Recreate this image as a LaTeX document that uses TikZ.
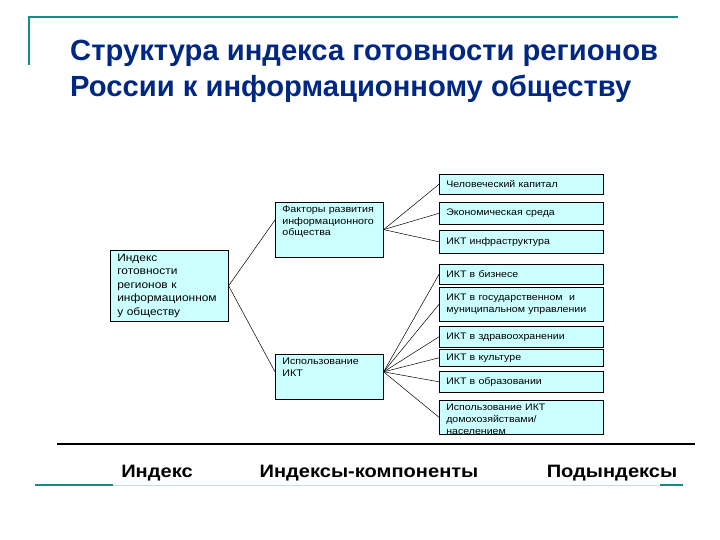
\documentclass[tikz,border=0pt]{standalone}
\usepackage{fontspec}
\setmainfont{Liberation Sans}
\newfontfamily\shirokiy[FakeStretch=1.12]{Liberation Sans}
\definecolor{zagolovok}{RGB}{0,40,130}
\definecolor{biryuza}{RGB}{20,140,140}
\definecolor{goluboy}{RGB}{204,255,255}
\begin{document}
\begin{tikzpicture}[x=1bp, y=-1bp,
    blok/.style={draw=black, line width=0.6bp, fill=goluboy, anchor=north west,
      inner xsep=7bp, inner ysep=3bp, align=left, font=\fontsize{9.5}{12}\shirokiy},
    podblok/.style={blok, text width=150bp, minimum width=164bp},
    svyaz/.style={line width=0.5bp},
    podpis/.style={anchor=base, inner sep=0, font=\fontsize{18}{20}\shirokiy\bfseries}]
    \useasboundingbox (0,0) rectangle (720,540);

    % Заголовок
    \draw[biryuza, line width=2bp] (29,65) -- (29,17) -- (678,17);
    \node[anchor=north west, inner sep=0, align=left, text=zagolovok,
      font=\fontsize{29.3}{36}\selectfont\bfseries] (zag) at (70,40)
      {Структура индекса готовности регионов\\России к информационному обществу};

    % Индекс и индексы-компоненты
    \node[blok, text width=104bp, minimum width=118bp, minimum height=71bp,
      font=\fontsize{10.7}{13.5}\shirokiy] (indeks) at (110,250)
      {Индекс\\готовности\\регионов к\\информационном\\у обществу};
    \node[blok, text width=94bp, text depth=40bp, inner ysep=4bp,
      font=\fontsize{9.6}{11.5}\shirokiy] (faktory) at (275,202)
      {Факторы развития\\информационного\\общества};
    \node[blok, text width=94bp, text depth=30bp, inner ysep=4bp,
      font=\fontsize{9.6}{11.5}\shirokiy] (ispolz) at (275,354)
      {Использование\\ИКТ};

    % Подындексы
    \foreach \imya/\verh/\vys/\tekst in {
        kapital/174/20/{Человеческий капитал},
        ekonom/202/22/{Экономическая среда},
        infra/230/23/{ИКТ инфраструктура},
        biznes/264/20/{ИКТ в бизнесе},
        gosupr/287/34/{ИКТ в государственном \ и\\муниципальном управлении},
        zdrav/326/21/{ИКТ в здравоохранении},
        kultura/349/17/{ИКТ в культуре},
        obraz/371/21/{ИКТ в образовании}}
        \node[podblok, minimum height=\vys bp] (\imya) at (439,\verh) {\tekst};
    \node[podblok, text height=7bp, text depth=21bp]
      (domokh) at (439,400) {Использование ИКТ\\домохозяйствами/\\населением};

    % Связи
    \draw[svyaz] (indeks.east) -- (faktory.170);
    \draw[svyaz] (indeks.east) -- (ispolz.175);
    \foreach \k in {kapital, ekonom, infra}
        \draw[svyaz] (faktory.east) -- (\k.west);
    \foreach \k in {biznes, gosupr, zdrav, kultura, obraz, domokh}
        \draw[svyaz] (ispolz.5) -- (\k.west);

    % Подписи уровней
    \draw[line width=1.2bp] (57,444) -- (695,444);
    \node[podpis] (urIndeks) at (157,477) {Индекс};
    \node[podpis] (urKomp) at (369,477) {Индексы-компоненты};
    \node[podpis] (urPod) at (612,477) {Подындексы};
    \draw[biryuza!25, line width=1bp] (35,485) -- (683,485);
    \draw[biryuza, line width=2bp] (35,485) -- (113,485);
    \draw[biryuza, line width=2bp] (660,485) -- (683,485);
\end{tikzpicture}
\end{document}
